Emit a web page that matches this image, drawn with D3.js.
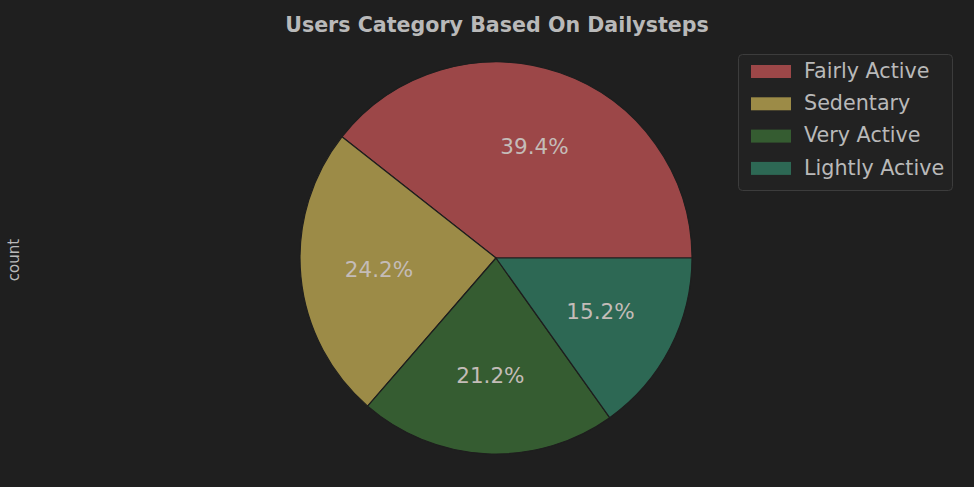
<!DOCTYPE html>
<html>
<head>
<meta charset="utf-8">
<script src="https://cdn.jsdelivr.net/npm/d3@7"></script>
<style>
  html, body { margin: 0; padding: 0; background: #1f1f1f; }
  svg { display: block; }
</style>
</head>
<body>
<script>
var categories = ['Fairly Active', 'Sedentary', 'Very Active', 'Lightly Active'];
var counts = [13, 8, 7, 5];
var colors = ['#9c4748', '#9c8b47', '#355c31', '#2d6854'];

var w = 974, h = 487;
var cx = 496, cy = 258, r = 196;

var svg = d3.select('body').append('svg')
  .attr('width', w)
  .attr('height', h);

svg.append('rect')
  .attr('width', w).attr('height', h)
  .attr('fill', '#1f1f1f');

svg.append('text')
  .attr('x', 497).attr('y', 32)
  .attr('text-anchor', 'middle')
  .attr('font-family', 'DejaVu Sans')
  .attr('font-weight', 'bold')
  .attr('font-size', 20.6)
  .attr('fill', '#b9b9b9')
  .text('Users Category Based On Dailysteps');

svg.append('text')
  .attr('transform', 'translate(19,260) rotate(-90)')
  .attr('text-anchor', 'middle')
  .attr('font-family', 'DejaVu Sans')
  .attr('font-size', 15)
  .attr('fill', '#b9b9b9')
  .text('count');

// matplotlib style: start at 3 o'clock, go counter-clockwise
var pie = d3.pie().sort(null)
  .startAngle(Math.PI / 2)
  .endAngle(Math.PI / 2 - 2 * Math.PI);
var arcs = pie(counts);
var total = d3.sum(counts);

var arc = d3.arc().innerRadius(0).outerRadius(r);
var labelArc = d3.arc().innerRadius(r * 0.6).outerRadius(r * 0.6);

var g = svg.append('g').attr('transform', 'translate(' + cx + ',' + cy + ')');

g.selectAll('path')
  .data(arcs)
  .enter()
  .append('path')
  .attr('d', arc)
  .attr('fill', function(d, i) { return colors[i]; })
  .attr('stroke', '#1e1e1e')
  .attr('stroke-width', 1.2)
  .attr('stroke-linejoin', 'round');

g.selectAll('text.pct')
  .data(arcs)
  .enter()
  .append('text')
  .attr('class', 'pct')
  .attr('transform', function(d) { return 'translate(' + labelArc.centroid(d) + ')'; })
  .attr('text-anchor', 'middle')
  .attr('dy', '0.35em')
  .attr('font-family', 'DejaVu Sans')
  .attr('font-size', 21.5)
  .attr('fill', '#c4bcb8')
  .text(function(d) { return (d.value / total * 100).toFixed(1) + '%'; });

// legend
var lg = svg.append('g').attr('transform', 'translate(738,54)');
lg.append('rect')
  .attr('x', 0.5).attr('y', 0.5)
  .attr('width', 214).attr('height', 136)
  .attr('rx', 4)
  .attr('fill', '#222222')
  .attr('stroke', '#3c3c3c');

var item = lg.selectAll('g.item')
  .data(categories)
  .enter()
  .append('g')
  .attr('class', 'item')
  .attr('transform', function(d, i) { return 'translate(0,' + (15 + i * 32.3) + ')'; });

item.append('rect')
  .attr('x', 13).attr('y', -4)
  .attr('width', 40).attr('height', 13)
  .attr('fill', function(d, i) { return colors[i]; });

item.append('text')
  .attr('x', 66).attr('y', 1.5)
  .attr('dy', '0.35em')
  .attr('font-family', 'DejaVu Sans')
  .attr('font-size', 20.7)
  .attr('fill', '#b9b9b9')
  .text(function(d) { return d; });
</script>
</body>
</html>
